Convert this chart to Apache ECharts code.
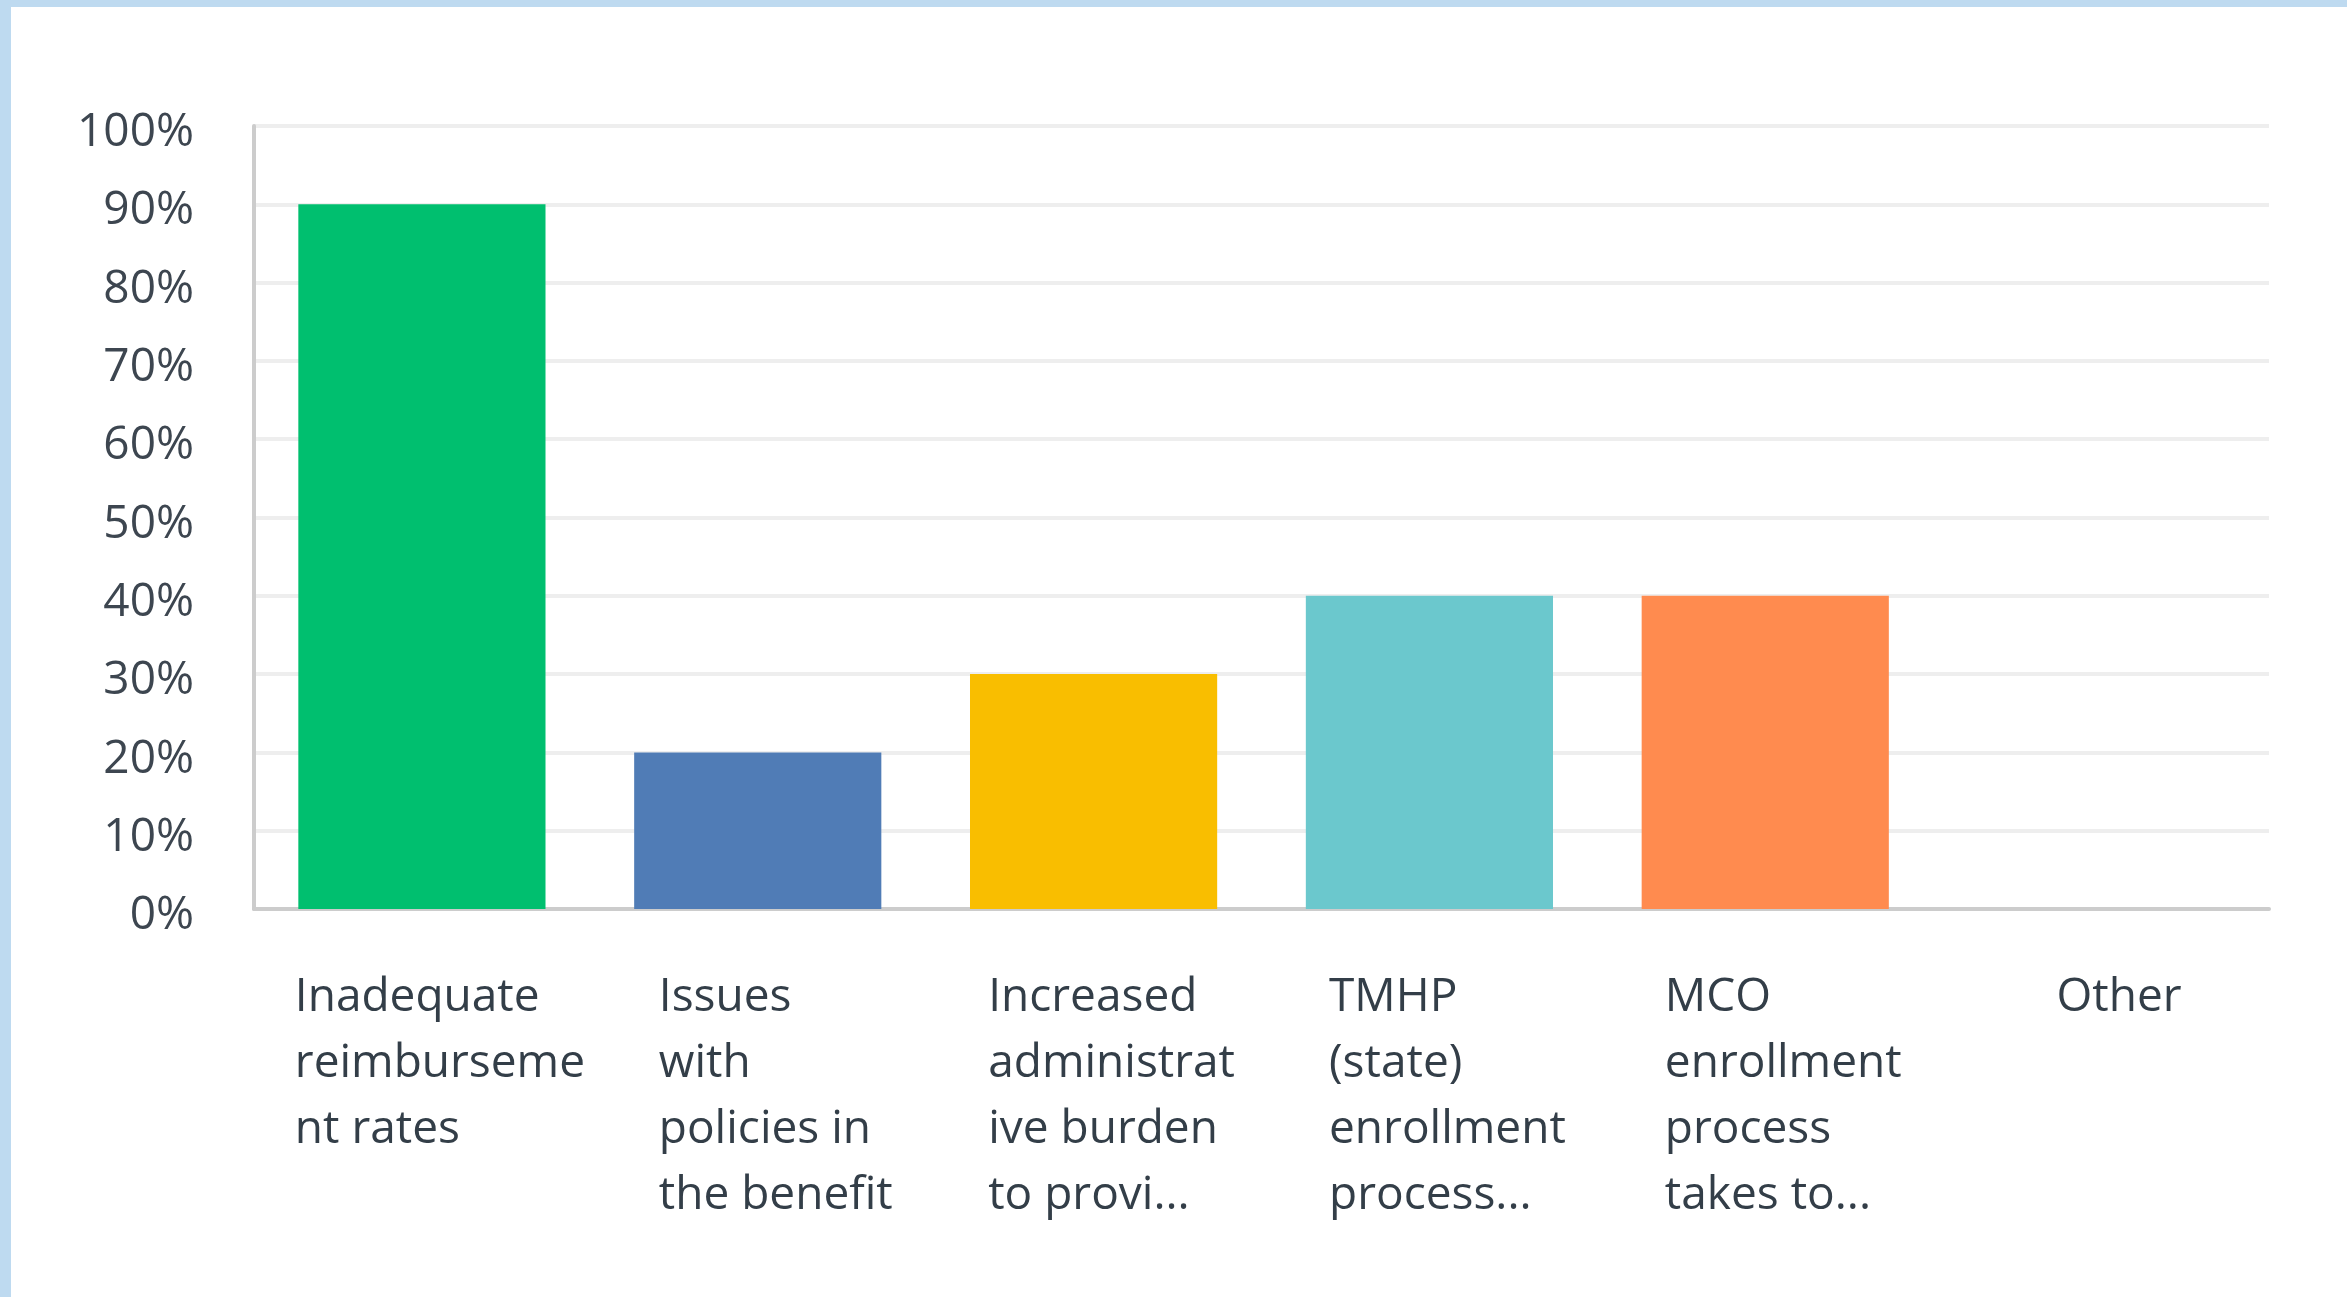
<!DOCTYPE html>
<html>
<head>
<meta charset="utf-8">
<script src="https://cdn.jsdelivr.net/npm/echarts@6/dist/echarts.min.js"></script>
<style>
  html, body { margin: 0; padding: 0; background: #ffffff; }
  #chart { position: absolute; left: 0; top: 0; width: 2347px; height: 1297px; }
  #bandTop { position: absolute; left: 0; top: 0; width: 2347px; height: 7px; background: #bedaf0; }
  #bandLeft { position: absolute; left: 0; top: 0; width: 11px; height: 1297px; background: #bedaf0; }
</style>
</head>
<body>
<div id="chart"></div>
<div id="bandTop"></div>
<div id="bandLeft"></div>
<script>
// ---- data ----
const categories = [
  "Inadequate reimbursement rates",
  "Issues with policies in the benefit",
  "Increased administrative burden to provi...",
  "TMHP (state) enrollment process...",
  "MCO enrollment process takes to...",
  "Other"
];
const categoryLabelLines = [
  ["Inadequate", "reimburseme", "nt rates"],
  ["Issues", "with", "policies in", "the benefit"],
  ["Increased", "administrat", "ive burden", "to provi..."],
  ["TMHP", "(state)", "enrollment", "process..."],
  ["MCO", "enrollment", "process", "takes to..."],
  ["Other"]
];
const percentValues = [90, 20, 30, 40, 40, 0];
const barColors = ["#00bf6f", "#507cb6", "#f9be00", "#6bc8cd", "#ff8b4f", "#7d5cb8"];

const FONT = "'Open Sans', 'Noto Sans', sans-serif";
const TEXT_COLOR = "#333e48";

const chart = echarts.init(document.getElementById('chart'), null, { renderer: 'canvas' });
chart.setOption({
  animation: false,
  backgroundColor: 'transparent',
  grid: {
    left: 254, right: 78, top: 126, bottom: 388,
    containLabel: false,
    outerBoundsMode: 'none'
  },
  xAxis: {
    type: 'category',
    data: categories,
    axisLine: { show: true, lineStyle: { color: '#cccccc', width: 4 } },
    axisTick: { show: false },
    splitLine: { show: false },
    axisLabel: {
      interval: 0,
      margin: 56,
      align: 'center',
      verticalAlign: 'top',
      padding: [0, 0, 0, 36],
      fontFamily: FONT,
      fontSize: 46,
      lineHeight: 66,
      color: TEXT_COLOR,
      formatter: function (value, idx) {
        return categoryLabelLines[idx].map(function (l) { return '{t|' + l + '}'; }).join('\n');
      },
      rich: {
        t: { fontFamily: FONT, fontSize: 46, lineHeight: 66, color: TEXT_COLOR, align: 'left' }
      }
    }
  },
  yAxis: {
    type: 'value',
    min: 0,
    max: 100,
    interval: 10,
    axisLine: { show: true, lineStyle: { color: '#cccccc', width: 4 } },
    axisTick: { show: false },
    splitLine: { show: true, lineStyle: { color: '#eeeeee', width: 4 } },
    axisLabel: {
      margin: 60,
      verticalAlign: 'top',
      lineHeight: 14,
      fontFamily: FONT,
      fontSize: 46,
      color: '#3d4650',
      formatter: '{value}%'
    }
  },
  series: [{
    type: 'bar',
    data: percentValues,
    barCategoryGap: '26.4%',
    itemStyle: {
      color: function (p) { return barColors[p.dataIndex]; }
    }
  }]
});
</script>
</body>
</html>
